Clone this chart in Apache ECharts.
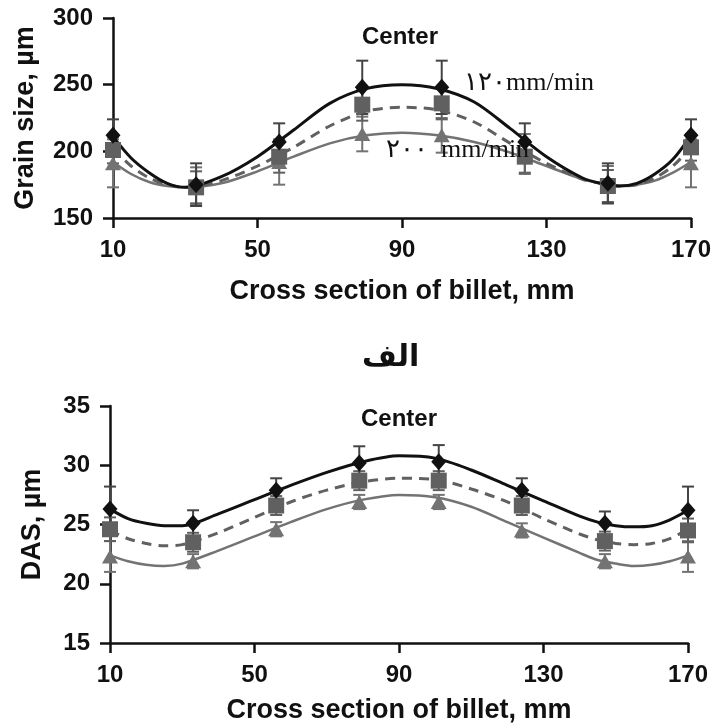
<!DOCTYPE html>
<html>
<head>
<meta charset="utf-8">
<script src="https://cdn.jsdelivr.net/npm/echarts@6/dist/echarts.min.js"></script>
<style>
html,body{margin:0;padding:0;background:#fff;}
#chart{width:714px;height:727px;}
</style>
</head>
<body>
<div id="chart"></div>
<script>
// ---- data ----
var pointX = [10, 33, 56, 79, 101, 124, 147, 170];
var curveX = [10, 15, 20, 25, 30, 40, 50, 60, 70, 80, 90, 100, 110, 120, 130, 140, 145, 150, 155, 160, 165, 170];

// top panel: grain size (µm)
var grain120 = [212, 175, 207, 248, 248, 207, 176, 212];
var grainMid = [201, 173, 196, 235, 236, 196, 174, 203];
var grain200 = [191, 174, 192, 213, 212, 198, 175, 191];
var grainErr120 = [12, 16, 14, 20, 20, 14, 15, 12];
var grainErrMid = [10, 12, 12, 12, 12, 12, 12, 10];
var grainErr200 = [18, 14, 17, 13, 13, 15, 14, 18];
var grainFit120 = [211, 195, 184, 176, 173, 181, 196, 216, 236, 247, 250, 247, 237, 217, 196, 180, 176, 174, 176, 183, 194, 212];
var grainFitMid = [202, 189, 180, 175, 173, 178, 189, 203, 219, 230, 233, 231, 222, 206, 191, 179, 176, 174, 175, 180, 189, 203];
var grainFit200 = [192, 183, 177, 174, 173, 176, 185, 196, 206, 212, 214, 212, 207, 199, 189, 179, 176, 174, 175, 178, 184, 192];

// bottom panel: DAS (µm)
var das120 = [26.3, 25.1, 27.9, 30.2, 30.3, 27.9, 25.1, 26.2];
var dasMid = [24.6, 23.5, 26.6, 28.7, 28.7, 26.6, 23.6, 24.5];
var das200 = [22.3, 21.9, 24.6, 26.9, 26.9, 24.5, 21.9, 22.3];
var dasErr120 = [1.9, 1.1, 1.0, 1.4, 1.4, 1.0, 1.0, 2.0];
var dasErrMid = [1.0, 0.8, 0.8, 0.8, 0.8, 0.8, 0.8, 1.0];
var dasErr200 = [1.3, 0.6, 0.6, 0.6, 0.6, 0.6, 0.6, 1.3];
var dasFit120 = [26.3, 25.5, 25.1, 24.9, 24.9, 25.9, 27.1, 28.3, 29.4, 30.3, 30.8, 30.6, 29.6, 28.3, 27.0, 25.7, 25.2, 24.9, 24.8, 24.9, 25.4, 26.2];
var dasFitMid = [24.5, 23.8, 23.4, 23.2, 23.3, 24.3, 25.6, 26.9, 27.9, 28.6, 28.9, 28.8, 28.0, 26.9, 25.5, 24.2, 23.7, 23.4, 23.3, 23.4, 23.8, 24.6];
var dasFit200 = [22.4, 21.9, 21.6, 21.5, 21.7, 22.8, 24.0, 25.2, 26.3, 27.1, 27.5, 27.3, 26.5, 25.2, 23.9, 22.6, 22.0, 21.7, 21.5, 21.6, 21.9, 22.4];

var xTicks = [10, 50, 90, 130, 170];
var grainTicks = [150, 200, 250, 300];
var dasTicks = [15, 20, 25, 30, 35];

var xTitle = 'Cross section of billet, mm';
var grainTitle = 'Grain size, µm';
var dasTitle = 'DAS, µm';
var centerLabel = 'Center';
var speedHigh = '۱۲۰mm/min';
var speedLow = '۲۰۰  mm/min';
var panelLabel = 'الف';

// ---- helpers ----
function pairs(xs, ys) { return xs.map(function (x, i) { return [x, ys[i]]; }); }
function errPairs(xs, ys, es) { return xs.map(function (x, i) { return [x, ys[i] - es[i], ys[i] + es[i]]; }); }

var SANS = 'Liberation Sans, Arial, sans-serif';
var SERIF = 'Liberation Serif, Times New Roman, serif';
var C1 = '#111111', C2 = '#606060', C3 = '#737373';

function errSeries(xi, data, color) {
  return {
    type: 'custom', xAxisIndex: xi, yAxisIndex: xi, z: 1, silent: true,
    data: data,
    renderItem: function (params, api) {
      var x = api.value(0);
      var lo = api.coord([x, api.value(1)]);
      var hi = api.coord([x, api.value(2)]);
      var w = 6;
      var st = { stroke: color, lineWidth: 2 };
      return {
        type: 'group',
        children: [
          { type: 'line', shape: { x1: lo[0], y1: lo[1], x2: hi[0], y2: hi[1] }, style: st },
          { type: 'line', shape: { x1: lo[0] - w, y1: lo[1], x2: lo[0] + w, y2: lo[1] }, style: st },
          { type: 'line', shape: { x1: hi[0] - w, y1: hi[1], x2: hi[0] + w, y2: hi[1] }, style: st }
        ]
      };
    }
  };
}
function fitSeries(xi, data, color, width, type) {
  return {
    type: 'line', xAxisIndex: xi, yAxisIndex: xi, z: 2, silent: true,
    data: data, smooth: 0.3, showSymbol: false, symbol: 'none',
    lineStyle: { color: color, width: width, type: type }
  };
}
function ptSeries(xi, data, color, symbol, size) {
  return {
    type: 'scatter', xAxisIndex: xi, yAxisIndex: xi, z: 3, silent: true,
    data: data, symbol: symbol, symbolSize: size,
    itemStyle: { color: color, opacity: 1 }
  };
}

function xAxisCfg(gi, gap) {
  return {
    type: 'value', gridIndex: gi, min: 10, max: 170, interval: 40,
    name: xTitle, nameLocation: 'middle', nameGap: gap,
    nameTextStyle: { fontFamily: SANS, fontWeight: 'bold', fontSize: 27, color: '#111' },
    axisLine: { show: true, onZero: false, lineStyle: { color: '#111', width: 2.5 } },
    axisTick: { show: true, inside: false, length: 10, lineStyle: { color: '#111', width: 2.5 } },
    axisLabel: { margin: 20, fontFamily: SANS, fontWeight: 'bold', fontSize: 24, color: '#111',
      customValues: xTicks },
    splitLine: { show: false }
  };
}
function yAxisCfg(gi, min, max, interval, title, gap, ticks) {
  return {
    type: 'value', gridIndex: gi, min: min, max: max, interval: interval,
    name: title, nameLocation: 'middle', nameGap: gap, nameRotate: 90,
    nameTextStyle: { fontFamily: SANS, fontWeight: 'bold', fontSize: 27, color: '#111' },
    axisLine: { show: true, onZero: false, lineStyle: { color: '#111', width: 2.5 } },
    axisTick: { show: true, inside: false, length: 10, lineStyle: { color: '#111', width: 2.5 } },
    axisLabel: { margin: 20, fontFamily: SANS, fontWeight: 'bold', fontSize: 24, color: '#111' },
    splitLine: { show: false }
  };
}

var chart = echarts.init(document.getElementById('chart'), null, { renderer: 'canvas' });
chart.setOption({
  backgroundColor: '#ffffff',
  animation: false,
  grid: [
    { left: 113, top: 18, width: 579, height: 200 },
    { left: 110, top: 406, width: 578, height: 237 }
  ],
  xAxis: [xAxisCfg(0, 60), xAxisCfg(1, 54)],
  yAxis: [
    yAxisCfg(0, 150, 300, 50, grainTitle, 74, grainTicks),
    yAxisCfg(1, 15, 35, 5, dasTitle, 64, dasTicks)
  ],
  graphic: [
    { type: 'text', left: 362, top: 25, style: { text: centerLabel, font: 'bold 24px ' + SANS, fill: '#111' } },
    { type: 'text', left: 361, top: 407, style: { text: centerLabel, font: 'bold 24px ' + SANS, fill: '#111' } },
    { type: 'text', left: 464, top: 70, z: 10, style: { text: speedHigh, font: '26px ' + SERIF, fill: '#111' } },
    { type: 'text', left: 386, top: 137, z: 10, style: { text: speedLow, font: '26px ' + SERIF, fill: '#111' } },
    { type: 'text', left: 362, top: 343, style: { text: panelLabel, font: 'bold 30px DejaVu Sans, sans-serif', fill: '#111' } }
  ],
  series: [
    errSeries(0, errPairs(pointX, grain200, grainErr200), C3),
    errSeries(0, errPairs(pointX, grainMid, grainErrMid), C2),
    errSeries(0, errPairs(pointX, grain120, grainErr120), '#444'),
    fitSeries(0, pairs(curveX, grainFit200), C3, 2.5, 'solid'),
    fitSeries(0, pairs(curveX, grainFitMid), C2, 3, [10, 7]),
    fitSeries(0, pairs(curveX, grainFit120), C1, 3, 'solid'),
    ptSeries(0, pairs(pointX, grain200), C3, 'triangle', [16, 14]),
    ptSeries(0, pairs(pointX, grainMid), C2, 'rect', 16),
    ptSeries(0, pairs(pointX, grain120), C1, 'diamond', [15, 17]),

    errSeries(1, errPairs(pointX, das200, dasErr200), C3),
    errSeries(1, errPairs(pointX, dasMid, dasErrMid), C2),
    errSeries(1, errPairs(pointX, das120, dasErr120), '#444'),
    fitSeries(1, pairs(curveX, dasFit200), C3, 2.5, 'solid'),
    fitSeries(1, pairs(curveX, dasFitMid), C2, 3, [10, 7]),
    fitSeries(1, pairs(curveX, dasFit120), C1, 3, 'solid'),
    ptSeries(1, pairs(pointX, das200), C3, 'triangle', [16, 14]),
    ptSeries(1, pairs(pointX, dasMid), C2, 'rect', 16),
    ptSeries(1, pairs(pointX, das120), C1, 'diamond', [15, 17])
  ]
});
</script>
</body>
</html>
